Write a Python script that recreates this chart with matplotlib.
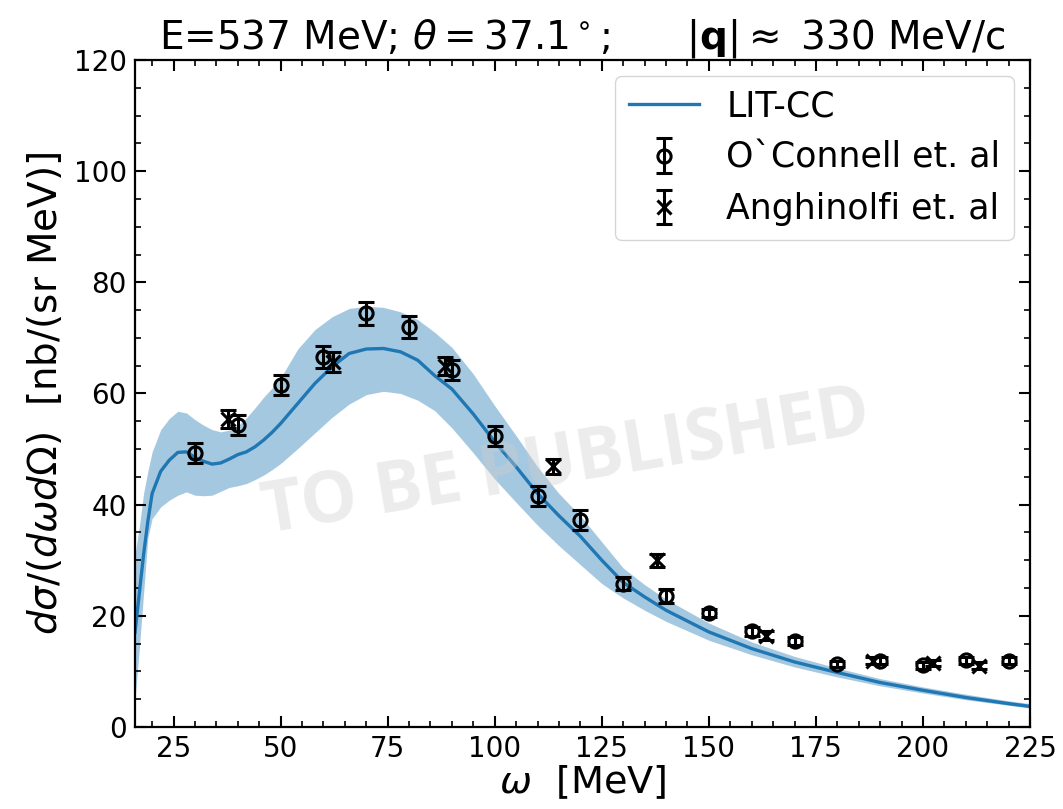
import numpy as np
import matplotlib
matplotlib.use("Agg")
import matplotlib.pyplot as plt
from matplotlib.ticker import MultipleLocator

# LIT-CC calculation: central curve and uncertainty band
omega_th = [16, 17, 18, 19, 20, 22, 24, 26, 28, 30, 32, 34, 36, 38, 40, 42, 44, 46, 48,
            50, 54, 58, 62, 66, 70, 74, 78, 82, 86, 90, 95, 100, 105, 110, 115, 120,
            125, 130, 135, 140, 150, 160, 170, 180, 190, 200, 210, 220, 225]
xs_center = [17, 24, 31, 37, 42, 46, 48, 49.4, 49.5, 48.5, 47.8, 47.3, 47.5, 48.2, 49.0,
             49.5, 50.4, 51.6, 53.0, 54.6, 58.2, 61.8, 64.8, 67.2, 68.0, 68.1, 67.5, 66.0,
             63.2, 60.8, 56.3, 51.3, 46.8, 42.0, 38.0, 34.3, 30.0, 26.0, 23.4, 21.0, 17.1,
             14.1, 11.7, 9.8, 8.0, 6.6, 5.3, 4.2, 3.7]
xs_upper = [31, 36, 42, 46, 49.5, 53.5, 55.5, 56.8, 56.5, 55.3, 54.3, 53.5, 53.1, 53.4,
            54.2, 55.6, 57.4, 59.3, 61.0, 62.8, 68.0, 71.5, 73.8, 75.3, 75.7, 75.5, 74.7,
            73.3, 71.0, 68.3, 63.5, 57.8, 52.4, 46.8, 42.0, 38.0, 33.3, 28.6, 25.6, 23.0,
            18.7, 15.3, 12.7, 10.6, 8.7, 7.2, 5.9, 4.7, 4.2]
xs_lower = [5, 14, 24, 34, 37.5, 39.6, 40.8, 41.7, 42.3, 41.7, 41.6, 41.7, 42.4, 43.1,
            43.4, 43.8, 44.5, 45.3, 46.3, 47.4, 50.1, 52.9, 55.7, 58.1, 59.8, 60.4, 60.0,
            58.8, 56.9, 53.8, 49.3, 44.6, 40.4, 36.3, 32.6, 29.2, 25.8, 23.2, 21.0, 19.0,
            15.6, 13.0, 10.8, 9.0, 7.4, 6.1, 4.9, 3.9, 3.4]

# O`Connell et al. data
oc_omega = [30, 40, 50, 60, 70, 80, 90, 100, 110, 120, 130, 140, 150, 160, 170, 180,
            190, 200, 210, 220]
oc_xs = [49.3, 54.3, 61.5, 66.5, 74.4, 71.9, 64.2, 52.3, 41.5, 37.2, 25.8, 23.6, 20.5,
         17.2, 15.4, 11.3, 11.9, 11.1, 12.0, 11.9]
oc_err = [1.8, 1.8, 1.8, 2.0, 2.0, 2.0, 1.8, 1.8, 1.8, 1.8, 1.2, 1.3, 0.8, 0.8, 0.7,
          0.6, 0.6, 0.6, 0.6, 0.6]

# Anghinolfi et al. data
an_omega = [37.7, 62.3, 88.5, 113.5, 137.9, 163.4, 188.4, 202.4, 213.0]
an_xs = [55.4, 65.6, 64.9, 46.9, 30.0, 16.4, 11.9, 11.5, 11.0]
an_err = [1.6, 1.8, 1.6, 1.3, 1.2, 0.8, 0.6, 0.6, 0.6]

fig = plt.figure(figsize=(10.63, 8.09), dpi=100)
ax = fig.add_axes([0.127, 0.1014, 0.842, 0.8244])

ax.fill_between(omega_th, xs_lower, xs_upper, color="C0", alpha=0.4, lw=0, zorder=1)
ax.plot(omega_th, xs_center, color="C0", lw=2.4, label="LIT-CC", zorder=2)

ax.text(0.482, 0.395, "TO BE PUBLISHED", transform=ax.transAxes, ha="center",
        va="center", rotation=9.5, fontsize=51, fontweight="bold", family="Open Sans",
        color="#cfcfcf", alpha=0.4, zorder=2.5)

eb_kw = dict(color="black", ls="none", ms=9.5, mew=2.2, elinewidth=2.2, capsize=5.5,
             capthick=2.2, zorder=3)
ax.errorbar(oc_omega, oc_xs, yerr=oc_err, fmt="o", mfc="none", mec="black",
            label="O`Connell et. al", **eb_kw)
ax.errorbar(an_omega, an_xs, yerr=an_err, fmt="x", label="Anghinolfi et. al", **eb_kw)

ax.set_xlim(16, 225)
ax.set_ylim(0, 120)
ax.xaxis.set_major_locator(MultipleLocator(25))
ax.xaxis.set_minor_locator(MultipleLocator(5))
ax.yaxis.set_major_locator(MultipleLocator(20))
ax.yaxis.set_minor_locator(MultipleLocator(5))
ax.tick_params(which="both", direction="in", top=True, right=True, labelsize=20)
ax.tick_params(which="major", length=8, width=1.5, pad=6)
ax.tick_params(which="minor", length=4.5, width=1.2)
for sp in ax.spines.values():
    sp.set_linewidth(1.6)

ax.set_xlabel(r"$\omega$  [MeV]", fontsize=27.5, labelpad=0)
ax.set_ylabel(r"$d\sigma/(d\omega d\Omega)$  [nb/(sr MeV)]", fontsize=28, labelpad=6)
ax.set_title(r"E=537 MeV; $\theta=37.1^\circ$;      $|\mathbf{q}|\approx$ 330 MeV/c",
             fontsize=28, pad=6)

ax.legend(loc="upper right", fontsize=25, borderaxespad=0.45)

fig.savefig("out.png", dpi=100)
